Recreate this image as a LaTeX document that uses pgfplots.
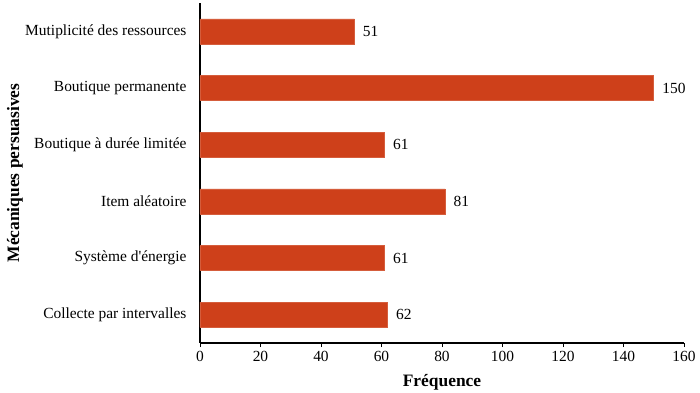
\documentclass[border=0pt]{standalone}
\usepackage{pgfplots}
\pgfplotsset{compat=1.18}
\usepackage{fontspec}
\setmainfont{Liberation Serif}
\newfontfamily\plainfont{Liberation Serif}
\definecolor{barc}{RGB}{206,64,26}
\begin{document}
\begin{tikzpicture}
\begin{axis}[
  at={(0,0)}, anchor=south west,
  scale only axis, width=484bp, height=340bp,
  xbar, bar width=25bp,
  xmin=0, xmax=160,
  ymin=-0.5, ymax=5.5, y dir=reverse,
  ytick={0,1,2,3,4,5},
  yticklabels={Mutiplicité des ressources, Boutique permanente, Boutique à durée limitée, Item aléatoire, {Système d{\plainfont'}énergie}, Collecte par intervalles},
  xtick={0,20,...,160},
  axis lines*=left,
  axis line style={line width=1.1pt, -},
  every tick/.style={line width=0.9pt, black},
  ytick style={draw=none},
  major tick length=4bp,
  xtick align=outside,
  tick label style={font=\fontsize{15.5}{17}\selectfont},
  /pgf/number format/assume math mode=true,
  yticklabel style={xshift=-6bp},
  xticklabel style={yshift=-1bp},
  xlabel={\textbf{Fréquence}},
  ylabel={\textbf{Mécaniques persuasives}},
  every axis x label/.style={at={(axis description cs:0.5,-0.1147)}, anchor=center, font=\fontsize{17.5}{19}\selectfont},
  every axis y label/.style={at={(axis description cs:-0.3822,0.5)}, anchor=center, rotate=90, font=\fontsize{17.5}{19}\selectfont},
  nodes near coords,
  every node near coord/.append style={font=\fontsize{15.5}{17}\selectfont, anchor=west, xshift=5bp, black},
  clip=false,
]
\addplot[fill=barc, draw=barc!85!white, line width=0.6pt] coordinates {
(51,0) (150,1) (61,2) (81,3) (61,4) (62,5)
};
\end{axis}
\pgfresetboundingbox
\useasboundingbox (-200bp,-50bp) rectangle (500bp,343bp);
\end{tikzpicture}
\end{document}
